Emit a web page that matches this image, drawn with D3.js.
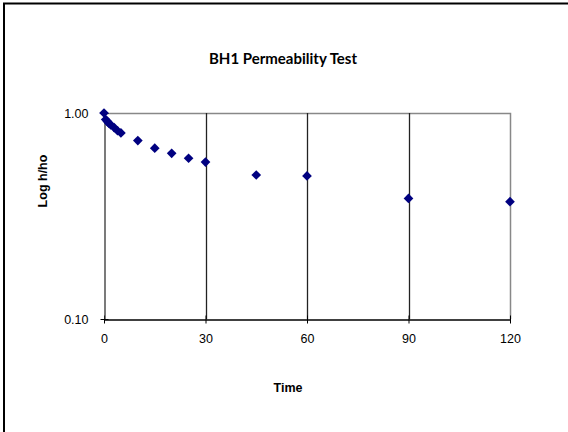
<!DOCTYPE html>
<html>
<head>
<meta charset="utf-8">
<script src="https://cdn.jsdelivr.net/npm/d3@7"></script>
<style>
  html, body { margin: 0; padding: 0; background: #fff; }
  svg { display: block; }
</style>
</head>
<body>
<svg id="chart" width="568" height="432"></svg>
<script>
// Falling-head permeability test readings for borehole BH1
const times = [0, 0.5, 1, 1.5, 2, 3, 4, 5, 10, 15, 20, 25, 30, 45, 60, 90, 120];
const ratios = [1.00, 0.93, 0.91, 0.89, 0.875, 0.85, 0.82, 0.80, 0.735, 0.675, 0.637, 0.603, 0.578, 0.50, 0.495, 0.385, 0.371];
const xTicks = [0, 30, 60, 90, 120];
const yTicks = [0.1, 1];

const svg = d3.select("#chart");
const plot = { left: 104, right: 510, top: 113, bottom: 319 };

// outer chart border (right and bottom edges fall outside the frame)
svg.append("rect")
  .attr("x", 4).attr("y", 3.5)
  .attr("width", 700).attr("height", 600)
  .attr("fill", "none").attr("stroke", "#000").attr("stroke-width", 2);

const x = d3.scaleLinear().domain([0, 120]).range([plot.left, plot.right]);
const y = d3.scaleLog().domain([0.1, 1]).range([plot.bottom, plot.top]);

// plot area frame (top and right)
svg.append("path")
  .attr("d", `M${plot.left},${plot.top + 0.5}H${plot.right + 0.5}V${plot.bottom}`)
  .attr("fill", "none").attr("stroke", "#888").attr("stroke-width", 1.5);

// vertical gridlines
svg.append("g")
  .selectAll("line")
  .data(xTicks.filter(t => t > 0 && t < 120))
  .join("line")
  .attr("x1", d => Math.round(x(d)) + 0.5).attr("x2", d => Math.round(x(d)) + 0.5)
  .attr("y1", plot.top).attr("y2", plot.bottom)
  .attr("stroke", "#222").attr("stroke-width", 1.3);

const font = "'Liberation Sans', Arial, sans-serif";

// x axis with crossing ticks
const xAxis = svg.append("g")
  .attr("transform", `translate(0,${plot.bottom + 0.5})`)
  .attr("font-family", font)
  .call(d3.axisBottom(x).tickValues(xTicks).tickSizeInner(4).tickSizeOuter(0).tickPadding(11)
    .tickFormat(d3.format("d")));
xAxis.attr("font-family", font);
xAxis.selectAll(".tick line").attr("y1", -4).attr("stroke", "#000");
xAxis.select(".domain").attr("stroke", "#000").attr("stroke-width", 1.3);
xAxis.selectAll("text").attr("font-family", font).attr("font-size", 12.5).attr("fill", "#000");

// y axis (log) with crossing ticks
const yAxis = svg.append("g")
  .attr("transform", `translate(${plot.left + 0.5},0)`)
  .call(d3.axisLeft(y).tickValues(yTicks).tickSizeInner(4).tickSizeOuter(0).tickPadding(12)
    .tickFormat(d3.format(".2f")));
yAxis.attr("font-family", font);
yAxis.selectAll(".tick line").attr("x1", 4).attr("stroke", "#000");
yAxis.select(".domain").attr("stroke", "#333").attr("stroke-width", 1.3);
yAxis.selectAll("text").attr("font-family", font).attr("font-size", 12.5).attr("fill", "#000");

// data markers
const pts = times.map((t, i) => ({ t, v: ratios[i] }));
svg.append("g")
  .selectAll("path")
  .data(pts)
  .join("path")
  .attr("transform", d => `translate(${x(d.t)},${y(d.v)})`)
  .attr("d", d3.symbol(d3.symbolDiamond2, 60)())
  .attr("fill", "#000080");

// title
svg.append("text")
  .attr("x", 283).attr("y", 64)
  .attr("text-anchor", "middle")
  .attr("font-family", "Lato, 'Open Sans', sans-serif")
  .attr("font-weight", "bold").attr("font-size", 15)
  .text("BH1 Permeability Test");

// axis titles
svg.append("text")
  .attr("x", 288).attr("y", 392)
  .attr("text-anchor", "middle")
  .attr("font-family", font).attr("font-weight", "bold").attr("font-size", 12.5)
  .text("Time");

svg.append("text")
  .attr("transform", "translate(47,181) rotate(-90)")
  .attr("text-anchor", "middle")
  .attr("font-family", font).attr("font-weight", "bold").attr("font-size", 12.5)
  .text("Log h/ho");
</script>
</body>
</html>
